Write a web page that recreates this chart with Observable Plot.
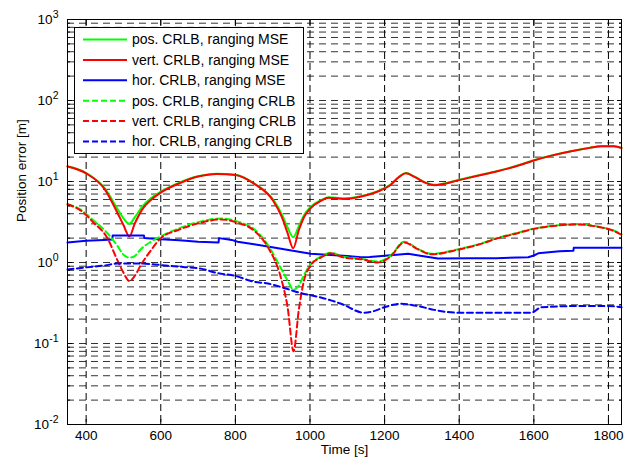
<!DOCTYPE html>
<html>
<head>
<meta charset="utf-8">
<script src="https://cdn.jsdelivr.net/npm/d3@7"></script>
<script src="https://cdn.jsdelivr.net/npm/@observablehq/plot@0.6"></script>
<style>
  html, body { margin: 0; padding: 0; background: #fff; }
  #chart { width: 631px; height: 461px; }
</style>
</head>
<body>
<div id="chart"></div>
<script>
// ---- data ----
const tMain = [350,400,450,485,500,516,530,550,575,600,650,700,750,800,850,900,925,940,955,970,985,1000,1030,1050,1090,1135,1190,1215,1240,1257,1280,1310,1333,1400,1450,1500,1550,1600,1650,1700,1750,1780,1815,1835];
const posMSE  = [15.4,12.7,8.2,4.5,3.5,3.0,3.6,4.9,6.3,7.5, 9.7,11.6,12.5,12.1,9.5,6.1,3.9,2.7,2.05,2.8, 3.9,4.8,5.9,6.4,6.2,6.6,7.9,9.1,11.6,12.7, 11.5,9.7,9.1,10.5,11.9,13.4,15.4,18.3,21.1,23.7, 26.1,27.3,27.3,26.0];
const vertMSE = [15.3,12.6,8.0,4.0,2.9,2.1,3.0,4.5,6.0,7.3, 9.5,11.5,12.4,12.0,9.4,5.9,3.6,2.3,1.5,2.5, 3.7,4.6,5.8,6.3,6.1,6.5,7.8,9.0,11.5,12.6, 11.4,9.6,9.0,10.4,11.8,13.3,15.3,18.2,21.0,23.6, 26.0,27.2,27.2,25.9];

const tHorMSE = [350,400,447,470,471,555,556,600,650,700,755,756,790,806,850,895,954,1002,1056,1100,1136,1160,1217,1263,1300,1343,1432,1500,1585,1600,1612,1669,1706,1707,1835];
const horMSE  = [1.77,1.85,1.9,1.92,2.15,2.15,2.0,1.93,1.88,1.8, 1.77,2.0,1.9,1.8,1.68,1.55,1.4,1.28,1.24,1.2, 1.16,1.17,1.23,1.28,1.2,1.12,1.13,1.13,1.16,1.22, 1.3,1.38,1.4,1.52,1.52];

const tCRLB = [350,385,420,457,484,500,516,530,546,573,600,645,707,761,806,849,887,922,940,956,970,984,1002,1029,1056,1091,1136,1182,1217,1252,1290,1325,1400,1450,1512,1540,1600,1660,1720,1781,1810,1835];
const posCRLB  = [5.3,4.5,3.3,2.3,1.6,1.25,1.15,1.2,1.45,1.8, 2.1,2.6,3.2,3.5,3.2,2.6,1.65,0.85,0.6,0.46, 0.52,0.7,0.95,1.18,1.32,1.17,1.12,1.03,1.23,1.8, 1.47,1.28,1.47,1.67,2.07,2.22,2.62,2.87,2.97,2.72, 2.52,2.22];
const vertCRLB = [5.2,4.4,3.1,2.0,1.06,0.75,0.59,0.68,0.92,1.4, 2.0,2.5,3.1,3.4,3.1,2.5,1.55,0.65,0.28,0.08, 0.26,0.6,0.92,1.15,1.3,1.15,1.1,1.0,1.2,1.77, 1.45,1.26,1.45,1.65,2.05,2.2,2.6,2.85,2.95,2.7, 2.5,2.2];

const tHorCRLB = [350,400,450,484,546,600,660,707,752,796,849,887,940,975,1029,1083,1145,1170,1199,1244,1290,1333,1397,1512,1593,1620,1719,1800,1835];
const horCRLB  = [0.82,0.87,0.92,0.97,0.97,0.93,0.88,0.84,0.74,0.69, 0.58,0.55,0.47,0.42,0.37,0.31,0.24,0.25,0.28,0.31, 0.29,0.26,0.24,0.24,0.24,0.28,0.29,0.29,0.28];

const seriesNames = ["pos. CRLB, ranging MSE","vert. CRLB, ranging MSE","hor. CRLB, ranging MSE",
                     "pos. CRLB, ranging CRLB","vert. CRLB, ranging CRLB","hor. CRLB, ranging CRLB"];
const seriesColors = ["#00ff00","#ff0000","#0000ff","#00ff00","#ff0000","#0000ff"];
const seriesDashed = [false,false,false,true,true,true];

const xTicks = [400,600,800,1000,1200,1400,1600,1800];
const yMajor = [0.01,0.1,1,10,100,1000];
const yDomain = [0.01, 1000];
const xDomain = [350, 1835];

// ---- build tables ----
const toRows = (ts, vs, s) => ts.map((t, i) => ({t, v: vs[i], s}));
const rows = [
  toRows(tMain, posMSE, 0), toRows(tMain, vertMSE, 1), toRows(tHorMSE, horMSE, 2),
  toRows(tCRLB, posCRLB, 3), toRows(tCRLB, vertCRLB, 4), toRows(tHorCRLB, horCRLB, 5)
];
const yMinor = [];
for (let e = -2; e < 3; e++) for (let m = 1; m < 10; m++) yMinor.push(m * Math.pow(10, e));
yMinor.push(1000);
const yGrid = yMinor.filter(v => v > 0.01 && v < 1000);

const lineMarks = rows.map((r, i) => Plot.line(r, {
  x: "t", y: "v", stroke: seriesColors[i], strokeWidth: 2,
  strokeDasharray: seriesDashed[i] ? "6,3.5" : null,
  curve: i === 2 ? "linear" : "monotone-x"
}));

const FONT = "'Liberation Sans', Arial, Helvetica, sans-serif";

const chart = Plot.plot({
  width: 631, height: 461,
  marginLeft: 67, marginTop: 19, marginRight: 10, marginBottom: 37,
  style: {fontFamily: FONT, fontSize: "13.5px", background: "white", color: "black"},
  x: {domain: xDomain},
  y: {type: "log", domain: yDomain},
  marks: [
    Plot.ruleY(yGrid, {stroke: "#333", strokeWidth: 1, strokeDasharray: "7,5"}),
    Plot.ruleX(xTicks, {stroke: "#000", strokeWidth: 1, strokeDasharray: "7,4"}),
    ...lineMarks,
    Plot.axisX({ticks: xTicks, tickSize: 0, tickPadding: 6, tickFormat: d => String(d), label: null, fontSize: 13.5}),
    Plot.axisX({ticks: xTicks, anchor: "bottom", tickSize: -5, tickFormat: () => "", label: null}),
    Plot.axisX({ticks: xTicks, anchor: "top", tickSize: -5, tickFormat: () => "", label: null}),
    Plot.axisY({ticks: yMajor, tickSize: 0, tickPadding: 9, tickFormat: d => "10^" + Math.round(Math.log10(d)), label: null, fontSize: 13.5}),
    Plot.axisY({ticks: yMinor, anchor: "left", tickSize: -3, tickFormat: () => "", label: null}),
    Plot.axisY({ticks: yMinor, anchor: "right", tickSize: -3, tickFormat: () => "", label: null}),
    Plot.axisY({ticks: yMajor, anchor: "left", tickSize: -5, tickFormat: () => "", label: null}),
    Plot.axisY({ticks: yMajor, anchor: "right", tickSize: -5, tickFormat: () => "", label: null}),
    Plot.frame({stroke: "black", strokeWidth: 1}),
    Plot.text(["Position error [m]"], {frameAnchor: "left", dx: -46, rotate: -90, fontSize: 13.5}),
    Plot.text(["Time [s]"], {frameAnchor: "bottom", dy: 29, fontSize: 13.5})
  ]
});
document.getElementById("chart").appendChild(chart);

// superscript exponents on y tick labels
const svg = d3.select(chart);
svg.selectAll('g[aria-label="y-axis tick label"] text').each(function() {
  const txt = this.textContent;
  const m = txt.match(/^10\^(-?\d+)$/);
  if (!m) return;
  const el = d3.select(this);
  el.text("");
  el.append("tspan").text("10");
  el.append("tspan").attr("dy", "-0.55em").attr("font-size", "0.78em").text(m[1]);
});

// legend (inside plot, top-left)
const lg = svg.append("g").attr("font-family", FONT).attr("font-size", 14).attr("text-anchor", "start");
lg.append("rect").attr("x", 74.5).attr("y", 27.5).attr("width", 229).attr("height", 126)
  .attr("fill", "white").attr("stroke", "black").attr("stroke-width", 1);
seriesNames.forEach((name, i) => {
  const cy = 39.5 + i * 20.4;
  lg.append("line").attr("x1", 83).attr("x2", 127).attr("y1", cy).attr("y2", cy)
    .attr("stroke", seriesColors[i]).attr("stroke-width", 2)
    .attr("stroke-dasharray", seriesDashed[i] ? "6,3" : null);
  lg.append("text").attr("x", 132).attr("y", cy).attr("dy", "0.35em")
    .attr("text-anchor", "start").attr("fill", "black").text(name);
});
</script>
</body>
</html>
